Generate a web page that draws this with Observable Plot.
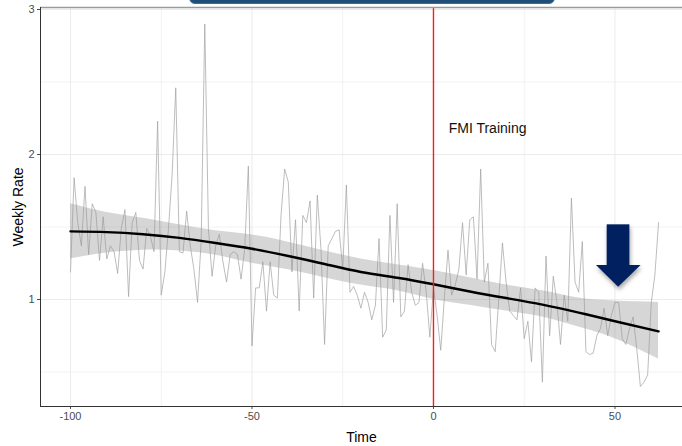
<!DOCTYPE html>
<html>
<head>
<meta charset="utf-8">
<script src="https://cdn.jsdelivr.net/npm/d3@7"></script>
<script src="https://cdn.jsdelivr.net/npm/@observablehq/plot@0.6"></script>
<style>
  html, body { margin: 0; padding: 0; background: #fff; overflow: hidden; }
  #wrap { position: relative; width: 682px; height: 446px; }
  #banner { position: absolute; left: 189px; top: -20px; width: 364px; height: 22px;
            background: #1f4e79; border: 1px solid #3a6d9c; border-radius: 6px; }
  .arrow { filter: drop-shadow(1px 3px 2px rgba(0,0,0,0.35)); }
</style>
</head>
<body>
<div id="wrap"><div id="banner"></div></div>
<script>
// Weekly rate, weeks -100 .. 62
const firstWeek = -100;
const rates = [
  1.19,1.84,1.53,1.37,1.78,1.31,1.66,1.60,1.27,1.57,1.28,1.37,1.33,1.18,1.49,1.62,1.02,1.53,1.60,1.27,
  1.21,1.49,1.44,1.33,2.23,1.03,1.19,1.49,1.86,2.46,1.33,1.32,1.61,
  1.37,1.21,0.98,1.40,2.90,1.49,1.16,1.37,1.45,1.26,1.12,1.31,1.33,1.31,1.14,1.35,1.92,0.68,
  1.08,1.08,1.26,0.92,1.26,1.03,1.01,1.58,1.90,1.81,1.19,1.55,0.92,1.58,
  1.53,1.68,1.01,1.72,1.35,0.69,1.37,1.42,1.47,1.48,1.21,1.79,1.05,1.09,1.03,0.94,1.05,0.98,0.86,
  0.96,1.42,0.74,0.79,1.58,0.98,1.66,0.88,0.92,1.24,1.05,0.96,0.98,1.25,
  1.05,0.74,1.08,0.89,0.65,1.01,1.34,1.03,1.10,1.21,1.53,1.17,1.55,1.57,1.14,1.90,1.12,1.25,0.69,
  0.64,1.01,1.39,1.12,0.92,0.89,0.86,1.08,0.73,0.85,0.57,1.08,1.05,0.43,1.30,
  0.75,1.16,0.98,0.69,1.03,0.85,1.70,1.12,1.05,1.40,0.64,0.62,0.63,0.75,0.80,0.94,0.75,0.89,0.98,
  0.98,0.73,0.69,0.80,0.88,0.66,0.40,0.43,0.48,0.98,1.17,1.53
];
const weeks = rates.map((_, i) => firstWeek + i);

// Smoothed trend with confidence band
const smoothWeeks = [-100, -90, -80, -70, -60, -50, -40, -30, -20, -10, 0, 10, 20, 30, 40, 50, 62];
const smoothFit   = [1.47, 1.465, 1.45, 1.425, 1.39, 1.35, 1.30, 1.245, 1.19, 1.15, 1.105, 1.055, 1.01, 0.965, 0.91, 0.85, 0.78];
const smoothLow   = [1.28, 1.32, 1.34, 1.335, 1.305, 1.25, 1.205, 1.15, 1.10, 1.06, 1.00, 0.96, 0.92, 0.88, 0.81, 0.73, 0.59];
const smoothHigh  = [1.66, 1.60, 1.56, 1.515, 1.475, 1.445, 1.395, 1.335, 1.28, 1.24, 1.20, 1.15, 1.10, 1.06, 1.01, 0.99, 0.98];

// Axis ticks
const xMajor = [-100, -50, 0, 50];
const xMinor = [-75, -25, 25];
const yMajor = [1, 2, 3];
const yMinor = [0.5, 1.5, 2.5];

// Annotations
const eventWeek = [0];
const eventLabel = [{x: 14.9, y: 2.18, text: "FMI Training"}];
const arrowShaft = [{x1: 47.85, x2: 54.1, y1: 1.234, y2: 1.515}];
const arrowHead = [{x: 44.9, y1: 1.234, y2: 1.234}, {x: 51.0, y1: 1.085, y2: 1.234}, {x: 57.2, y1: 1.234, y2: 1.234}];

const xDomain = [-108.26, 68.6];
const yDomain = [0.262, 3.014];

const series = weeks.map((w, i) => ({week: w, rate: rates[i]}));
const smooth = smoothWeeks.map((w, i) => ({week: w, fit: smoothFit[i], lo: smoothLow[i], hi: smoothHigh[i]}));

const chart = Plot.plot({
  width: 682,
  height: 446,
  marginLeft: 40,
  marginRight: 0,
  marginTop: 7,
  marginBottom: 40,
  style: {fontFamily: "'Liberation Sans', Arial, sans-serif", fontSize: "11px", color: "#4d4d4d", background: "transparent"},
  x: {domain: xDomain, ticks: xMajor, tickFormat: d => String(d), tickSize: 3, tickPadding: 3, label: null},
  y: {domain: yDomain, ticks: yMajor, tickFormat: d => String(d), tickSize: 3, tickPadding: 3, label: null},
  marks: [
    Plot.ruleX(xMinor, {stroke: "#f2f2f2", strokeWidth: 1}),
    Plot.ruleY(yMinor, {stroke: "#f2f2f2", strokeWidth: 1}),
    Plot.ruleX(xMajor, {stroke: "#ebebeb", strokeWidth: 1}),
    Plot.ruleY(yMajor, {stroke: "#ebebeb", strokeWidth: 1}),
    Plot.line(series, {x: "week", y: "rate", stroke: "#a0a0a0", strokeWidth: 0.7}),
    Plot.areaY(smooth, {x: "week", y1: "lo", y2: "hi", fill: "#999999", fillOpacity: 0.4, curve: "natural"}),
    Plot.line(smooth, {x: "week", y: "fit", stroke: "#000", strokeWidth: 2.4, curve: "natural"}),
    Plot.ruleX(eventWeek, {stroke: "#ff1a1a", strokeWidth: 1.4}),
    Plot.text(eventLabel, {x: "x", y: "y", text: "text", fill: "#111", fontSize: 14}),
    Plot.rect(arrowShaft, {x1: "x1", x2: "x2", y1: "y1", y2: "y2", fill: "#002060"}),
    Plot.areaY(arrowHead, {x: "x", y1: "y1", y2: "y2", fill: "#002060"}),
    Plot.ruleY([yDomain[1]], {stroke: "#9a9a9a", strokeWidth: 1.5}),
    Plot.ruleX([xDomain[0]], {stroke: "#333", strokeWidth: 1}),
    Plot.ruleY([yDomain[0]], {stroke: "#333", strokeWidth: 1}),
    Plot.text(["Time"], {frameAnchor: "bottom", textAnchor: "middle", dy: 35, fill: "#000", fontSize: 14}),
    Plot.text(["Weekly Rate"], {frameAnchor: "left", textAnchor: "middle", dx: -22, rotate: -90, fill: "#000", fontSize: 14})
  ]
});
// soft shadow under the annotation arrow
chart.querySelectorAll("[fill='#002060']").forEach(g => g.classList.add("arrow"));
document.getElementById("wrap").prepend(chart);
</script>
</body>
</html>
